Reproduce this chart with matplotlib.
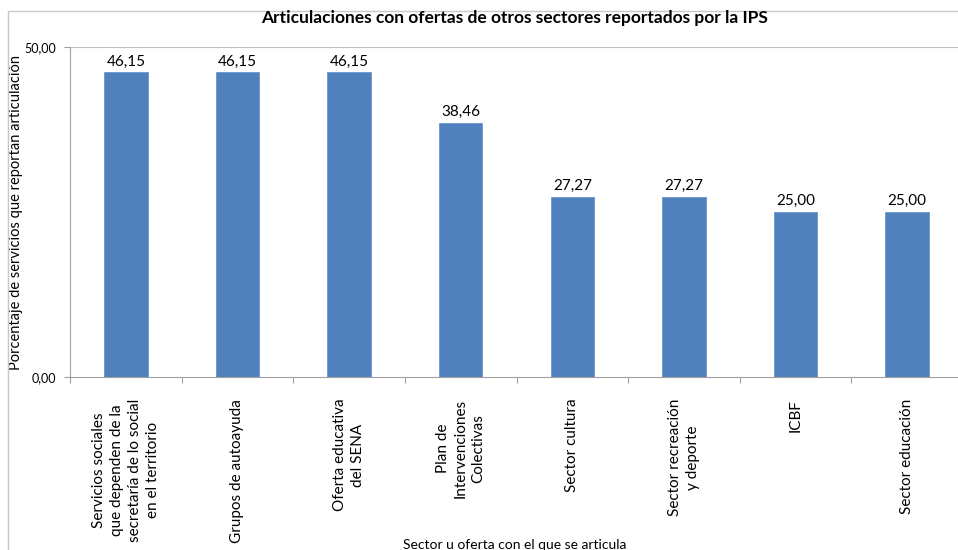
import matplotlib.pyplot as plt
from matplotlib.patches import Rectangle

plt.rcParams['font.family'] = ['Lato', 'DejaVu Sans']

categories = ['Servicios sociales\nque dependen de la\nsecretaría de lo social\nen el territorio',
              'Grupos de autoayuda',
              'Oferta educativa\ndel SENA',
              'Plan de\nIntervenciones\nColectivas',
              'Sector cultura',
              'Sector recreación\ny deporte',
              'ICBF',
              'Sector educación']
values = [46.15, 46.15, 46.15, 38.46, 27.27, 27.27, 25.00, 25.00]
yticks = [0, 50]
ytick_labels = ['0,00', '50,00']

fig = plt.figure(figsize=(9.58, 5.5), dpi=100)
ax = fig.add_axes([70 / 958, (550 - 377) / 550, 893 / 958, 330 / 550])

x = range(len(categories))
ax.bar(x, values, width=0.39, color='#4F81BD', edgecolor='#6A95CB', linewidth=0.6)
for xi, v in zip(x, values):
    ax.text(xi, v + 0.6, f'{v:.2f}'.replace('.', ','), ha='center', va='bottom', fontsize=11)

ax.set_xlim(-0.5, len(categories) - 0.5)
ax.set_ylim(0, 50)
ax.set_yticks(yticks)
ax.set_yticklabels(ytick_labels, fontsize=9)
ax.axhline(50, color='#BFBFBF', linewidth=0.8)

# category separators on the x axis, labels drawn as text below
ax.set_xticks([i + 0.5 for i in range(-1, len(categories))])
ax.set_xticklabels([])
ax.tick_params(axis='x', length=4, color='#A0A0A0')
ax.tick_params(axis='y', length=4, color='#A0A0A0', pad=6)
for xi, lab in zip(x, categories):
    ax.text(xi, -3.3, lab, rotation=90, ha='center', va='top', fontsize=11,
            multialignment='center', linespacing=1.35)

for s in ['top', 'right']:
    ax.spines[s].set_visible(False)
ax.spines['left'].set_color('#A0A0A0')
ax.spines['bottom'].set_color('#A0A0A0')

ax.set_ylabel('Porcentaje de servicios que reportan articulación', fontsize=10.5)
ax.yaxis.set_label_coords(-47 / 893, 0.5)

fig.text(515 / 958, 1 - 18 / 550, 'Articulaciones con ofertas de otros sectores reportados por la IPS',
         ha='center', va='center', fontsize=12.5, fontweight='bold')
fig.text(515 / 958, 1 - 545 / 550, 'Sector u oferta con el que se articula',
         ha='center', va='center', fontsize=10)

fig.patches.append(Rectangle((8 / 958, -0.1), 1.0, 1 - 11 / 550 + 0.1, transform=fig.transFigure,
                             fill=False, edgecolor='#C8C8C8', linewidth=1))

plt.savefig('out.png', dpi=100)
